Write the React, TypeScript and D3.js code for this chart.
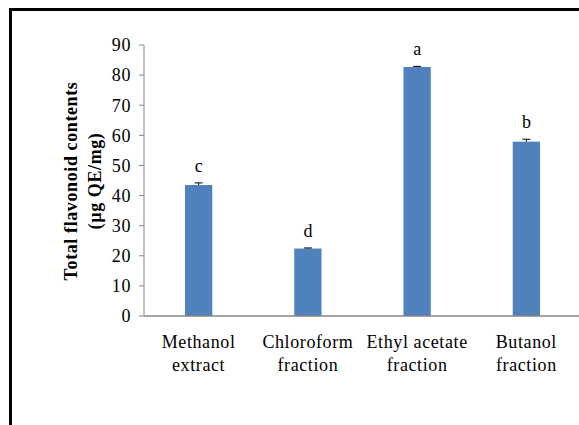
import React from "react";
import * as d3 from "d3";

const categories = [["Methanol", "extract"], ["Chloroform", "fraction"], ["Ethyl acetate", "fraction"], ["Butanol", "fraction"]];
const values = [43.5, 22.4, 82.7, 57.9];
const errors = [0.7, 0.2, 0.2, 0.8];
const letters = ["c", "d", "a", "b"];
const yTicks = [0, 10, 20, 30, 40, 50, 60, 70, 80, 90];

export default function App() {
  const W = 579, H = 425;
  const left = 144, right = 581, top = 45, bottom = 316;
  const x = d3.scaleBand<number>().domain(d3.range(values.length)).range([left, right]).paddingInner(0.75).paddingOuter(0.375);
  const y = d3.scaleLinear().domain([0, 90]).range([bottom, top]);
  const font = "'Liberation Serif', 'Times New Roman', serif";
  const axisColor = "#868686";
  const fs = 18;
  const ls = 0.6;
  return (
    <svg width={W} height={H} style={{ position: "absolute", left: 0, top: 0 }}>
      <rect x={0} y={0} width={W} height={H} fill="#fff" />
      <rect x={10.5} y={9.5} width={W + 10} height={H + 10} fill="none" stroke="#000" strokeWidth={3} />
      {values.map((v, i) => {
        const cx = x(i)! + x.bandwidth() / 2;
        return (
          <g key={i}>
            <rect x={x(i)} y={y(v)} width={x.bandwidth()} height={bottom - y(v)} fill="#4F81BD" />
            <line x1={cx} x2={cx} y1={y(v + errors[i])} y2={y(v)} stroke="#000" strokeWidth={1} />
            <line x1={cx - 4} x2={cx + 4} y1={y(v + errors[i])} y2={y(v + errors[i])} stroke="#000" strokeWidth={1} />
            <text x={cx} y={y(v + errors[i]) - 11} textAnchor="middle" fontFamily={font} fontSize={fs}>{letters[i]}</text>
            {categories[i].map((t, j) => (
              <text key={j} x={cx} y={348 + j * 23} textAnchor="middle" fontFamily={font} fontSize={fs} letterSpacing={ls}>{t}</text>
            ))}
          </g>
        );
      })}
      <line x1={left} x2={left} y1={top} y2={bottom} stroke={axisColor} strokeWidth={1} />
      <line x1={left} x2={right} y1={bottom} y2={bottom} stroke={axisColor} strokeWidth={1.5} />
      {yTicks.map((t) => (
        <g key={t}>
          <line x1={left - 5} x2={left} y1={y(t)} y2={y(t)} stroke={axisColor} strokeWidth={1} />
          <text x={left - 13} y={y(t)} dy="0.35em" textAnchor="end" fontFamily={font} fontSize={fs} letterSpacing={ls}>{t}</text>
        </g>
      ))}
      <text transform={`translate(77,181) rotate(-90)`} textAnchor="middle" fontFamily={font} fontSize={fs} fontWeight="bold" letterSpacing={ls}>Total flavonoid contents</text>
      <text transform={`translate(101,181) rotate(-90)`} textAnchor="middle" fontFamily={font} fontSize={fs} fontWeight="bold" letterSpacing={ls}>(µg QE/mg)</text>
    </svg>
  );
}
